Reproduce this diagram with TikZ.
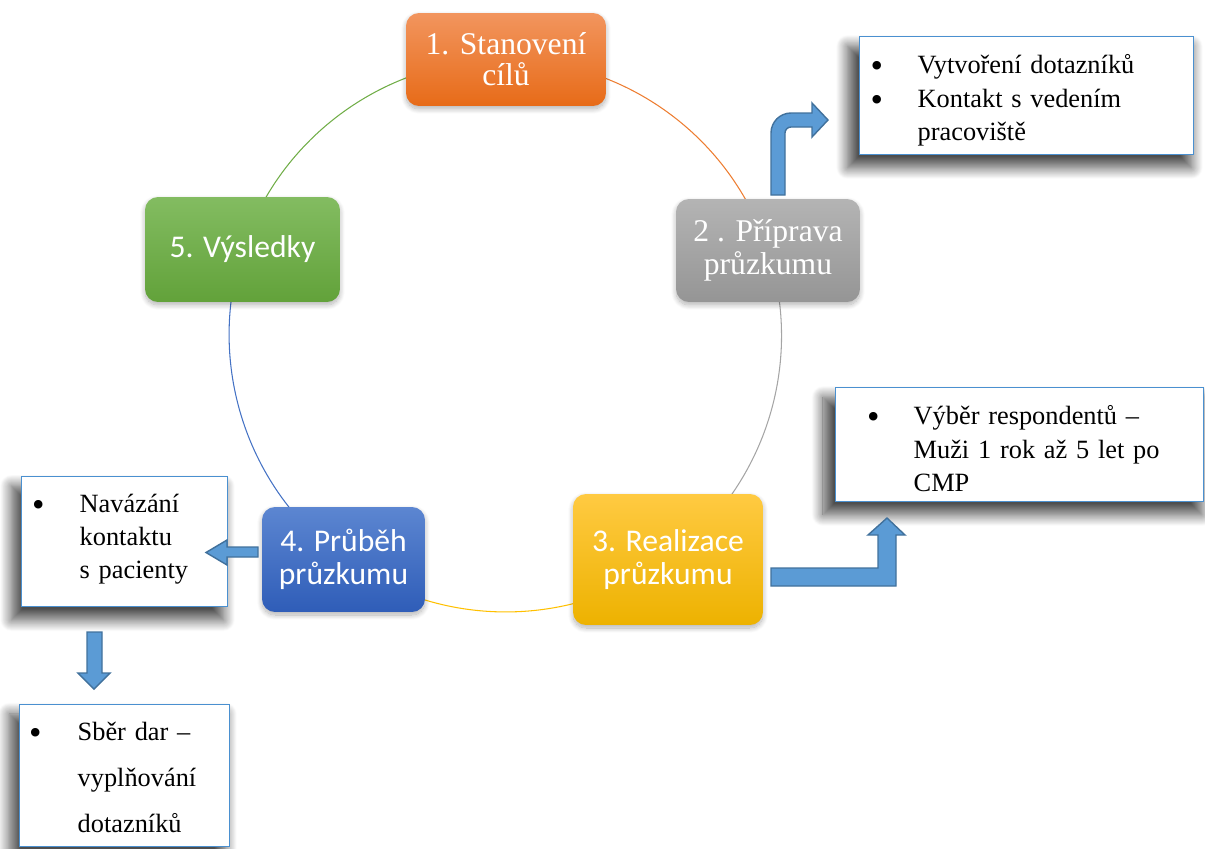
\documentclass[tikz,border=0pt]{standalone}
\usepackage{graphicx}
\usepackage{fontspec}
\setmainfont{Liberation Serif}
\newfontfamily\calibri{Carlito}
\usetikzlibrary{shadows.blur}

\definecolor{OrTop}{HTML}{F2955E}
\definecolor{OrBot}{HTML}{E76B18}
\definecolor{OrArc}{HTML}{ED7D31}
\definecolor{GrTop}{HTML}{B4B4B4}
\definecolor{GrBot}{HTML}{959595}
\definecolor{GrArc}{HTML}{A5A5A5}
\definecolor{YeTop}{HTML}{FFCA42}
\definecolor{YeBot}{HTML}{EDB200}
\definecolor{YeArc}{HTML}{FFC000}
\definecolor{BlTop}{HTML}{5C86D1}
\definecolor{BlBot}{HTML}{2F5DB8}
\definecolor{BlArc}{HTML}{4472C4}
\definecolor{GnTop}{HTML}{83BC61}
\definecolor{GnBot}{HTML}{62A23A}
\definecolor{GnArc}{HTML}{70AD47}
\definecolor{NoteLine}{HTML}{4A90D0}
\definecolor{ArrowFill}{HTML}{5B9BD5}
\definecolor{ArrowLine}{HTML}{41719C}

\newcommand{\notebullet}[2]{\makebox[#2][l]{\hspace{#1}\raisebox{-2.4pt}{\scalebox{1.35}{\textbullet}}}}

\begin{document}
\begin{tikzpicture}[
    x=0.02cm, y=-0.02cm,
    stage/.style={rectangle, rounded corners=0.26cm, inner sep=0pt, text=white,
        align=center, font=\fontsize{18}{19}\selectfont,
        blur shadow={shadow xshift=0pt, shadow yshift=-0.06cm,
            shadow blur radius=0.1cm, shadow blur steps=12, shadow opacity=30}},
    note/.style={rectangle, draw=NoteLine, line width=0.8pt, fill=white,
        anchor=north west, inner sep=0pt, align=left,
        font=\fontsize{15}{19}\selectfont,
        blur shadow={shadow xshift=-0.14cm, shadow yshift=-0.22cm, shadow scale=1.03,
            shadow blur radius=0.22cm, shadow blur steps=16, shadow opacity=70}},
    blockarrow/.style={fill=ArrowFill, draw=ArrowLine, line width=0.8pt},
    cycleline/.style={line width=0.6pt}
]
\useasboundingbox (0,0) rectangle (1205,849);

\coordinate (C1) at (506,59.5);
\coordinate (C2) at (768,250.5);
\coordinate (C3) at (668,559.5);
\coordinate (C4) at (343.5,559.5);
\coordinate (C5) at (242.5,249.5);

\foreach \src/\dst/\clr in {C1/C2/OrArc, C2/C3/GrArc, C3/C4/YeArc, C4/C5/BlArc, C5/C1/GnArc}
  \draw[cycleline, draw=\clr] (\src) to[bend left=36, looseness=0.94] (\dst);

\node (Stage1) [stage, top color=OrTop, bottom color=OrBot,
    minimum width=4cm, minimum height=1.86cm,
    font=\fontsize{18}{17.5}\selectfont] at (C1) {1. Stanovení\\cílů};
\node (Stage2) [stage, top color=GrTop, bottom color=GrBot,
    minimum width=3.68cm, minimum height=2.06cm] at (C2) {2 . Příprava\\průzkumu};
\node (Stage3) [stage, top color=YeTop, bottom color=YeBot,
    minimum width=3.8cm, minimum height=2.62cm] at (C3) {\calibri 3. Realizace\\\calibri průzkumu};
\node (Stage4) [stage, top color=BlTop, bottom color=BlBot,
    minimum width=3.26cm, minimum height=2.1cm] at (C4) {\calibri 4. Průběh\\\calibri průzkumu};
\node (Stage5) [stage, top color=GnTop, bottom color=GnBot,
    minimum width=3.9cm, minimum height=2.1cm] at (C5) {\calibri 5. Výsledky};

\node (Note1) [note, text width=6.68cm, text height=0.74cm, text depth=1.62cm] at (859,36)
  {\notebullet{0.22cm}{1.16cm}Vytvoření dotazníků\\
   \notebullet{0.22cm}{1.16cm}Kontakt s vedením\\
   \hspace*{1.16cm}pracoviště};
\node (Note2) [note, text width=7.36cm, text height=0.74cm, text depth=1.54cm,
    font=\fontsize{15}{19.1}\selectfont] at (835,387)
  {\notebullet{0.63cm}{1.56cm}Výběr respondentů –\\
   \hspace*{1.56cm}Muži 1 rok až 5 let po\\
   \hspace*{1.56cm}CMP};
\node (Note3) [note, text width=4.12cm, text height=0.72cm, text depth=1.88cm,
    font=\fontsize{15}{18.8}\selectfont] at (21,476)
  {\notebullet{0.21cm}{1.16cm}Navázání\\
   \hspace*{1.16cm}kontaktu\\
   \hspace*{1.16cm}s pacienty};
\node (Note4) [note, text width=4.2cm, text height=0.72cm, text depth=2.12cm,
    font=\fontsize{15}{26.2}\selectfont] at (19,704)
  {\notebullet{0.19cm}{1.16cm}Sběr dar –\\
   \hspace*{1.16cm}vyplňování\\
   \hspace*{1.16cm}dotazníků};

\draw[blockarrow] (771,195) [rounded corners=0.4cm] -- (771,113) [sharp corners]
  -- (812,113) -- (812,103) -- (828,120) -- (812,137) -- (812,127)
  [rounded corners=0.12cm] -- (785,127) [sharp corners] -- (785,195) -- cycle;
\draw[blockarrow] (771,568) -- (878,568) -- (878,535) -- (868,535) -- (887,518)
  -- (905,535) -- (896,535) -- (896,586) -- (771,586) -- cycle;
\draw[blockarrow] (258,547) -- (227,547) -- (227,540) -- (206,552.5) -- (227,565)
  -- (227,557) -- (258,557) -- cycle;
\draw[blockarrow] (87,632) -- (102,632) -- (102,673) -- (110,673) -- (94,689)
  -- (78,673) -- (87,673) -- cycle;

\end{tikzpicture}
\end{document}
